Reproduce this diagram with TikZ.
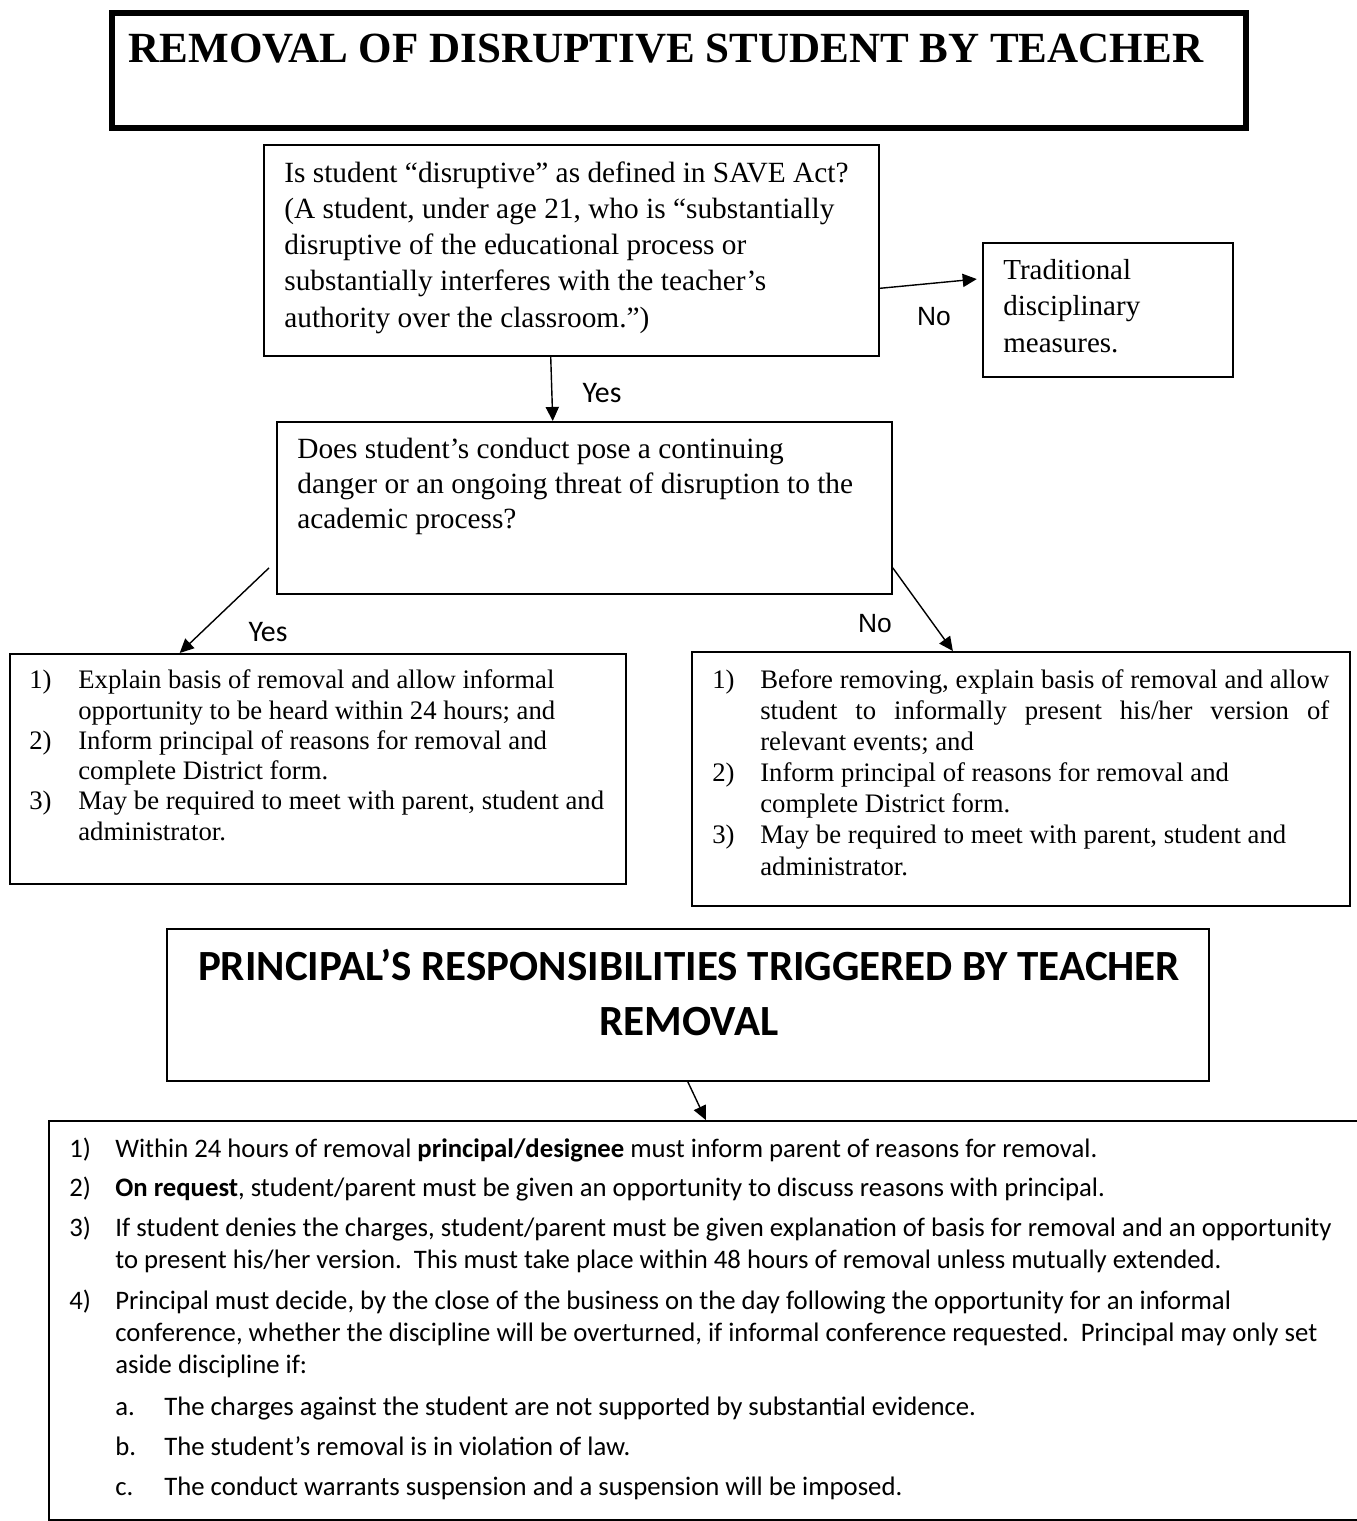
\documentclass[tikz,border=0pt]{standalone}
\usepackage{fontspec}
\setmainfont{Liberation Serif}
\newfontfamily\calibri{Carlito}
\newfontfamily\arialfont{Liberation Sans}
\usetikzlibrary{arrows.meta}

\begin{document}
\begin{tikzpicture}[x=0.02cm, y=-0.02cm,
    frame/.style={draw, line width=1.1pt, inner sep=0pt, anchor=north west},
    txt/.style={inner sep=0pt, anchor=base west, align=left},
    arr/.style={-{Triangle[length=8pt, width=7.5pt]}, line width=0.8pt},
    yeslbl/.style={inner sep=0pt, font=\calibri\fontsize{17}{20}\selectfont},
    nolbl/.style={inner sep=0pt, font=\arialfont\fontsize{15}{18}\selectfont}]
    \useasboundingbox (0,0) rectangle (1356,1521);

    \node[frame, line width=3.4pt, minimum width=22.68cm, minimum height=2.3cm] (title) at (109,10) {};
    \node[inner sep=0pt, anchor=base, font=\bfseries\fontsize{24.5}{28}\selectfont] (titletext) at (666,62)
      {REMOVAL OF DISRUPTIVE STUDENT BY TEACHER};

    \node[frame, minimum width=12.3cm, minimum height=4.22cm] (q1) at (263,144) {};
    \node[txt, font=\fontsize{16.7}{20.5}\selectfont] (q1text) at (284,327)
      {Is student “disruptive” as defined in SAVE Act?\\
       (A student, under age 21, who is “substantially\\
       disruptive of the educational process or\\
       substantially interferes with the teacher’s\\
       authority over the classroom.”)};

    \node[frame, minimum width=5cm, minimum height=2.68cm] (trad) at (982,242) {};
    \node[txt, font=\fontsize{16.5}{20.7}\selectfont] (tradtext) at (1003,352)
      {Traditional\\ disciplinary\\ measures.};

    \node[frame, minimum width=12.3cm, minimum height=3.44cm] (q2) at (276,421) {};
    \node[txt, font=\fontsize{16.7}{19.8}\selectfont] (q2text) at (297,528)
      {Does student’s conduct pose a continuing\\
       danger or an ongoing threat of disruption to the\\
       academic process?};

    \node[frame, minimum width=12.32cm, minimum height=4.6cm] (yesbox) at (9,653) {};
    \node[txt, font=\fontsize{15.2}{17.2}\selectfont] (yestext) at (29,840)
      {\makebox[0.98cm][l]{1)}Explain basis of removal and allow informal\\
       \hspace*{0.98cm}opportunity to be heard within 24 hours; and\\
       \makebox[0.98cm][l]{2)}Inform principal of reasons for removal and\\
       \hspace*{0.98cm}complete District form.\\
       \makebox[0.98cm][l]{3)}May be required to meet with parent, student and\\
       \hspace*{0.98cm}administrator.};

    \node[frame, minimum width=13.16cm, minimum height=5.08cm] (nobox) at (691,651) {};
    \node[txt, font=\fontsize{15.2}{17.7}\selectfont] (notext) at (712,875)
      {\makebox[0.96cm][l]{1)}\makebox[11.38cm][s]{Before removing, explain basis of removal and allow}\\
       \hspace*{0.96cm}\makebox[11.38cm][s]{student to informally present his/her version of}\\
       \hspace*{0.96cm}relevant events; and\\
       \makebox[0.96cm][l]{2)}Inform principal of reasons for removal and\\
       \hspace*{0.96cm}complete District form.\\
       \makebox[0.96cm][l]{3)}May be required to meet with parent, student and\\
       \hspace*{0.96cm}administrator.};

    \node[frame, minimum width=20.84cm, minimum height=3.04cm] (principal) at (166,928) {};
    \node[inner sep=0pt, anchor=base, align=center, font=\calibri\bfseries\fontsize{24.5}{31.2}\selectfont] (principaltext) at (689,1035)
      {PRINCIPAL’S RESPONSIBILITIES TRIGGERED BY TEACHER\\ REMOVAL};

    \node[frame, minimum width=26.28cm, minimum height=7.98cm] (duties) at (48,1120) {};
    \node[txt, font=\calibri\fontsize{15.2}{18.4}\selectfont] (dutiestext) at (69,1495)
      {\makebox[0.92cm][l]{1)}Within 24 hours of removal \textbf{principal/designee} must inform parent of reasons for removal.\\[3.5pt]
       \makebox[0.92cm][l]{2)}\textbf{On request}, student/parent must be given an opportunity to discuss reasons with principal.\\[4.3pt]
       \makebox[0.92cm][l]{3)}If student denies the charges, student/parent must be given explanation of basis for removal and an opportunity\\
       \hspace*{0.92cm}to present his/her version.\ \ This must take place within 48 hours of removal unless mutually extended.\\[4.8pt]
       \makebox[0.92cm][l]{4)}Principal must decide, by the close of the business on the day following the opportunity for an informal\\
       \hspace*{0.92cm}conference, whether the discipline will be overturned, if informal conference requested.\ \ Principal may only set\\
       \hspace*{0.92cm}aside discipline if:\\[5.2pt]
       \hspace*{0.92cm}\makebox[0.98cm][l]{a.}The charges against the student are not supported by substantial evidence.\\[4.3pt]
       \hspace*{0.92cm}\makebox[0.98cm][l]{b.}The student’s removal is in violation of law.\\[4.3pt]
       \hspace*{0.92cm}\makebox[0.98cm][l]{c.}The conduct warrants suspension and a suspension will be imposed.};

    \draw[arr, shorten >=3pt] (q1.-7) -- (trad.166);
    \draw[arr] (q1.-101) -- (q2.110);
    \draw[arr] ([xshift=-0.14cm]q2.191) -- (yesbox.140);
    \draw[arr] (q2.-11) -- (nobox.118);
    \draw[arr] (principal.south) -- (duties.north);

    \node[nolbl] (nolabel) at (934,317) {No};
    \node[yeslbl] (yeslabel) at (602,393) {Yes};
    \node[yeslbl] (yeslabelb) at (268,632) {Yes};
    \node[nolbl] (nolabelb) at (875,624) {No};
\end{tikzpicture}
\end{document}
